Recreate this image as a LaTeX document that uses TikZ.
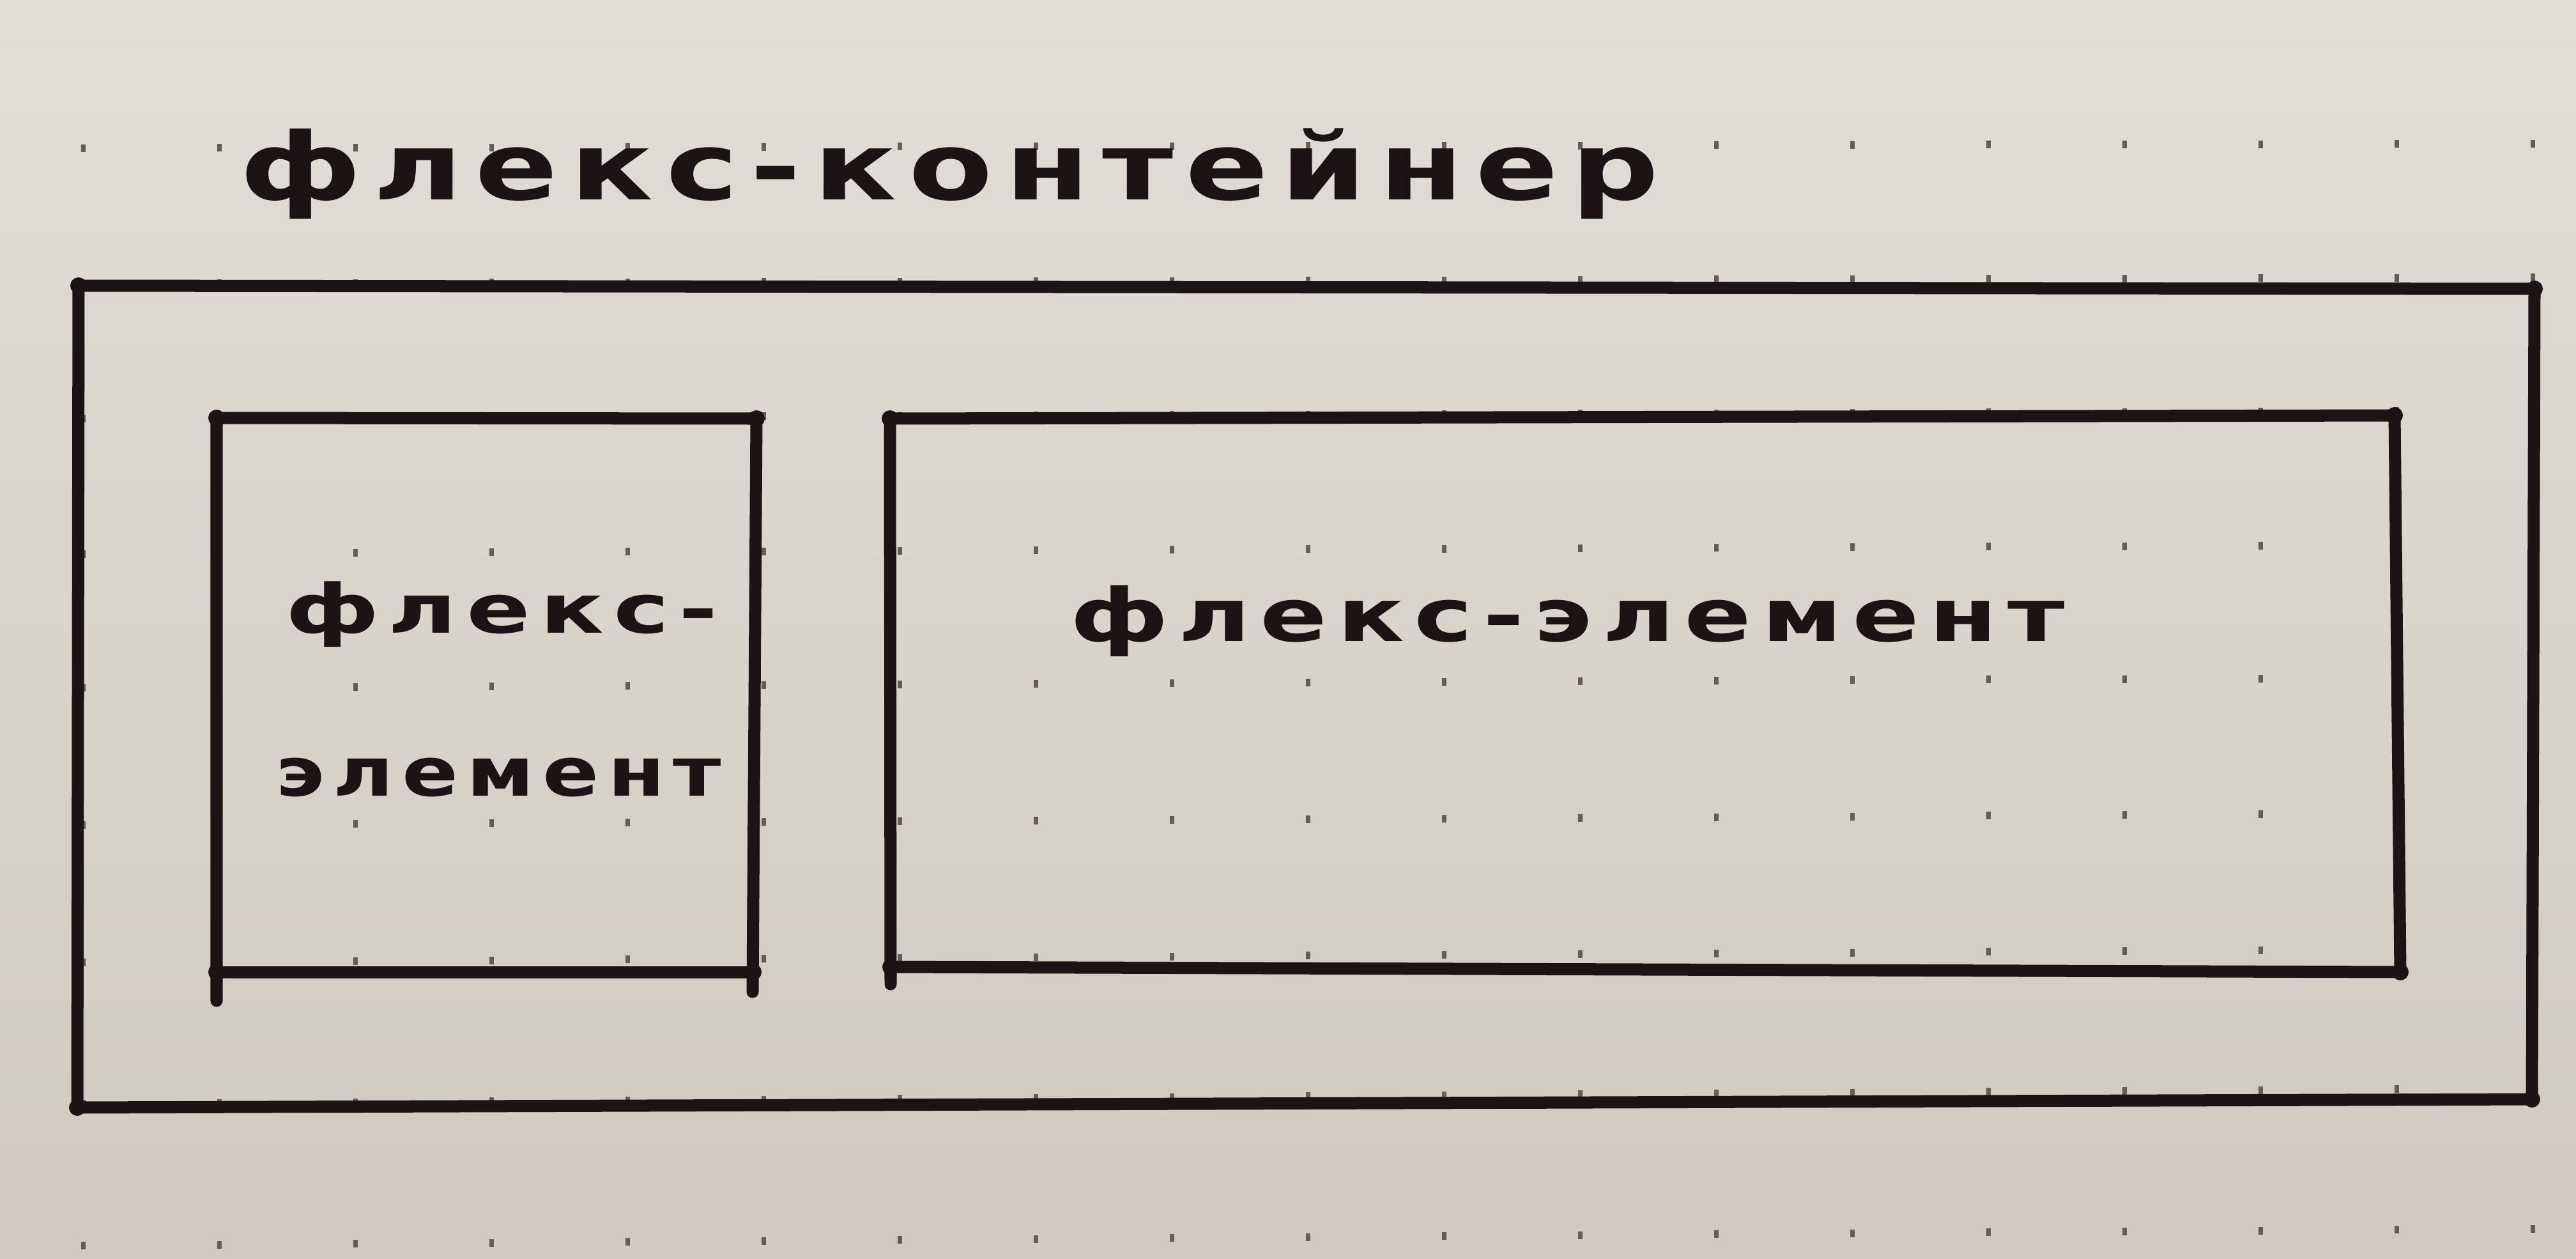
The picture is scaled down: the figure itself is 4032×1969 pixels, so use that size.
\documentclass[tikz,border=0pt]{standalone}
\usepackage{fontspec}
\newfontfamily\hand[LetterSpace=10]{DejaVu Sans}
\definecolor{paper}{RGB}{225,222,216}
\definecolor{paperdark}{RGB}{208,202,192}
\definecolor{ink}{RGB}{28,20,20}
\definecolor{dotc}{RGB}{100,92,86}
\begin{document}
\begin{tikzpicture}[x=0.01cm,y=-0.01cm,
  pen/.style={draw=ink,line width=0.19cm,line cap=round,line join=round},
  blot/.style={fill=ink},
  script/.style={anchor=base west,inner sep=0pt,outer sep=0pt,text=ink},
  griddot/.style={fill=dotc}]
\useasboundingbox (0,0) rectangle (4032,1969);
% paper
\shade[top color=paper,bottom color=paperdark] (0,0) rectangle (4032,1969);
% dotted grid of the notebook page
\foreach \r/\y in {0/232,1/444,2/655,3/867,4/1077,5/1292,6/1507,7/1728,8/1950}{
  \foreach \k in {0,...,18}{
    \pgfmathsetmacro\xx{130+213*\k}
    \pgfmathsetmacro\yy{\y-(7+2.5*\r)*(\xx/3900)}
    \fill[griddot] ({\xx-3.5},{\yy-6}) rectangle ({\xx+3.5},{\yy+6});
  }
}
% container frame
\coordinate (oTL) at (123,447);
\coordinate (oTR) at (3967,452);
\coordinate (oBR) at (3963,1720);
\coordinate (oBL) at (121,1733);
\draw[pen] (oTL) -- (oTR) -- (oBR) -- (oBL) -- cycle;
% first item
\coordinate (aTL) at (339,654);
\coordinate (aTR) at (1184,655);
\coordinate (aBR) at (1179,1521);
\coordinate (aBL) at (339,1521);
\coordinate (aLend) at (339,1566);
\coordinate (aRend) at (1178,1552);
\draw[pen] (aLend) -- (aTL) -- (aTR) -- (aRend);
\draw[pen] (aBL) -- (aBR);
% second item
\coordinate (bTL) at (1393,655);
\coordinate (bTR) at (3748,650);
\coordinate (bBR) at (3757,1521);
\coordinate (bBL) at (1394,1513);
\coordinate (bLend) at (1394,1540);
\draw[pen] (bLend) -- (bTL) -- (bTR) -- (bBR) -- (bBL);
% ink blots where the pen paused at the corners
\foreach \c in {oTL,oTR,oBR,oBL,aTL,aTR,aBL,aBR,bTL,bTR,bBR,bBL}
  \fill[blot] (\c) circle[radius=0.13cm];
% labels
\node[script] (title) at (375,312)
  {\resizebox{22.2cm}{\height}{\hand\bfseries\fontsize{41.5}{50}\selectfont флекс-контейнер}};
\node[script] (itemAa) at (447,990)
  {\resizebox{6.76cm}{\height}{\hand\bfseries\fontsize{30.2}{36}\selectfont флекс-}};
\node[script] (itemAb) at (431,1245)
  {\resizebox{6.98cm}{\height}{\hand\bfseries\fontsize{30.2}{36}\selectfont элемент}};
\node[script] (itemB) at (1675,1003)
  {\resizebox{15.56cm}{\height}{\hand\bfseries\fontsize{32.7}{40}\selectfont флекс-элемент}};
\end{tikzpicture}
\end{document}
